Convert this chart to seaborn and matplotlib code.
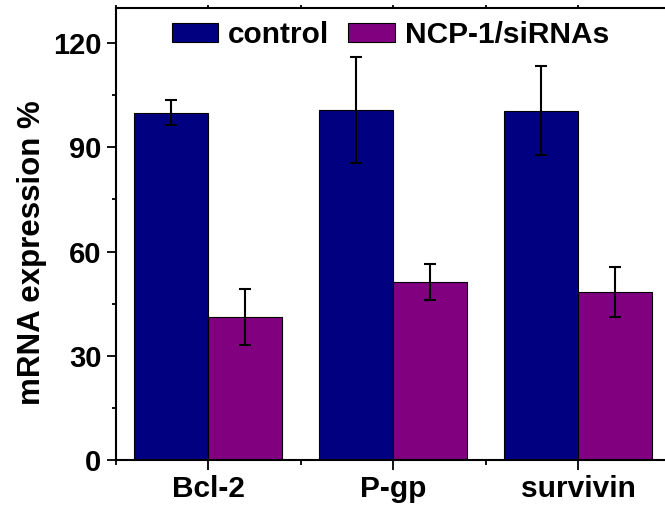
import pandas as pd
import seaborn as sns
import matplotlib.pyplot as plt
from matplotlib.ticker import MultipleLocator

# Datos

genes = ["Bcl-2", "P-gp", "survivin"]
grupos = ["control", "NCP-1/siRNAs"]
control = [100.0, 100.7, 100.5]
control_err = [3.5, 15.2, 12.8]
sirna = [41.2, 51.3, 48.3]
sirna_err = [8.0, 5.2, 7.2]

df = pd.DataFrame({
    "gen": genes * 2,
    "grupo": [grupos[0]] * 3 + [grupos[1]] * 3,
    "valor": control + sirna,
    "err": control_err + sirna_err,
})

sns.set_style("ticks")
plt.rcParams["font.family"] = ["Liberation Sans", "DejaVu Sans"]
plt.rcParams["font.weight"] = "bold"
for k in ["text.color", "axes.labelcolor", "xtick.color", "ytick.color", "axes.edgecolor"]:
    plt.rcParams[k] = "black"

fig = plt.figure(figsize=(6.65, 5.08), dpi=100)
ax = fig.add_axes([0.1737, 0.0945, 0.8346, 0.8892])

sns.barplot(
    data=df, x="gen", y="valor", hue="grupo",
    order=genes, hue_order=grupos,
    palette=["#000080", "#800080"], saturation=1,
    edgecolor="black", linewidth=0.8,
    errorbar=None, width=0.8, ax=ax,
)

# Barras de error sobre cada barra
for cont, grupo in zip(ax.containers, grupos):
    sub = df[df["grupo"] == grupo].set_index("gen").loc[genes]
    xs = [p.get_x() + p.get_width() / 2 for p in cont.patches]
    ax.errorbar(xs, sub["valor"], yerr=sub["err"], fmt="none",
                ecolor="black", elinewidth=1.5, capsize=4, capthick=1.5)

ax.set_xlim(-0.5, 2.5)
ax.set_ylim(0, 130)
ax.yaxis.set_major_locator(MultipleLocator(30))
ax.yaxis.set_minor_locator(MultipleLocator(15))
ax.xaxis.set_minor_locator(MultipleLocator(0.5))

ax.set_xlabel("")
ax.set_ylabel("mRNA expression %", fontsize=22.5, fontweight="bold")
ax.yaxis.set_label_coords(-0.123, 0.459)
ax.tick_params(axis="y", which="major", labelsize=21, width=1.3, length=6.5, direction="out")
ax.tick_params(axis="y", which="minor", width=1.3, length=3, direction="out")
ax.tick_params(axis="x", which="major", labelsize=21.5, width=1.3, length=7, direction="out")
ax.tick_params(axis="x", which="minor", width=1.3, length=3.5, direction="out")
for lab in ax.get_xticklabels() + ax.get_yticklabels():
    lab.set_fontweight("bold")

for s in ax.spines.values():
    s.set_linewidth(1.5)
    s.set_visible(True)

# Ticks cortos arriba
ax.tick_params(axis="x", which="both", top=True, labeltop=False)
for t in ax.xaxis.get_major_ticks() + ax.xaxis.get_minor_ticks():
    t.tick2line.set_markersize(2.5)

ax.legend(loc="upper left", bbox_to_anchor=(0.101, 0.972), ncol=2, frameon=False,
          prop={"size": 21.5, "weight": "bold"}, handlelength=1.56, handleheight=0.64,
          handletextpad=0.32, columnspacing=0.65, borderaxespad=0, borderpad=0)

plt.savefig("out.png", dpi=100)
